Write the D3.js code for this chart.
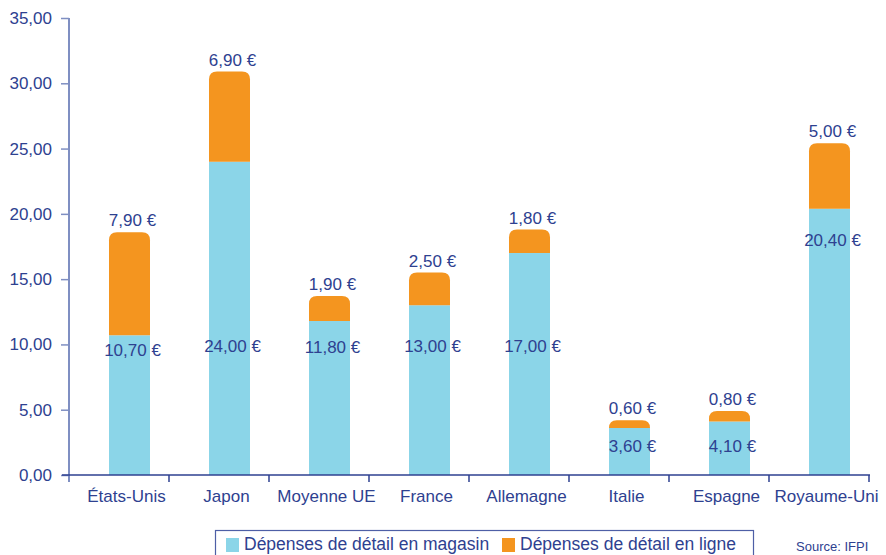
<!DOCTYPE html>
<html>
<head>
<meta charset="utf-8">
<script src="https://cdn.jsdelivr.net/npm/d3@7"></script>
<style>
  body { margin: 0; background: #fff; }
  svg text { font-family: "Liberation Sans", Arial, sans-serif; fill: #2e4190; }
</style>
</head>
<body>
<div id="container"></div>
<script>
// data
let countries = ["États-Unis", "Japon", "Moyenne UE", "France", "Allemagne", "Italie", "Espagne", "Royaume-Uni"];
let storeSpend = [10.70, 24.00, 11.80, 13.00, 17.00, 3.60, 4.10, 20.40];
let onlineSpend = [7.90, 6.90, 1.90, 2.50, 1.80, 0.60, 0.80, 5.00];
// where the in-store label sits (value units)
let storeLabelAt = [9.6, 9.9, 9.8, 9.9, 9.9, 2.2, 2.2, 18.0];
let yTicks = [0, 5, 10, 15, 20, 25, 30, 35];
let legendLabels = ["Dépenses de détail en magasin", "Dépenses de détail en ligne"];

let blue = "#8bd5e8", orange = "#f4951f", ink = "#2e4190";

let svg = d3.select("#container").append("svg")
    .attr("width", 886).attr("height", 555);

let yScale = d3.scaleLinear().domain([0, 35]).range([475, 18]);
let xScale = d3.scaleBand().domain(countries).range([69, 869]);
let bw = xScale.bandwidth();
let barX = d => xScale(d) + bw * 0.40;
let barW = bw * 0.41;
let barC = d => barX(d) + barW / 2;

let fmt = v => d3.format(".2f")(v).replace(".", ",");

// y axis
let yAxis = d3.axisLeft(yScale).tickValues(yTicks).tickFormat(fmt).tickSize(8).tickPadding(9);
let yg = svg.append("g").attr("transform", "translate(69,0)").call(yAxis);
yg.select(".domain").remove();
yg.selectAll(".tick line").attr("stroke", "#7f8fc2").attr("stroke-width", 1.5);
yg.selectAll("text").style("font-size", "17px").attr("fill", ink);
svg.append("line").attr("x1", 69).attr("x2", 69).attr("y1", yScale(35)).attr("y2", 482)
    .attr("stroke", "#7f8fc2").attr("stroke-width", 2);

// bars
let rows = countries.map((c, i) => ({c: c, store: storeSpend[i], online: onlineSpend[i], at: storeLabelAt[i]}));

function roundTop(x, y0, y1, w, r) {
  let h = y0 - y1;
  r = Math.min(r, h, w / 2);
  return "M" + x + "," + y0 + "V" + (y1 + r) +
    "Q" + x + "," + y1 + " " + (x + r) + "," + y1 +
    "H" + (x + w - r) +
    "Q" + (x + w) + "," + y1 + " " + (x + w) + "," + (y1 + r) +
    "V" + y0 + "Z";
}

svg.selectAll("rect.store").data(rows).enter().append("rect")
    .attr("class", "store")
    .attr("x", d => barX(d.c)).attr("width", barW)
    .attr("y", d => yScale(d.store))
    .attr("height", d => yScale(0) - yScale(d.store))
    .attr("fill", blue);

svg.selectAll("path.online").data(rows).enter().append("path")
    .attr("class", "online")
    .attr("d", d => roundTop(barX(d.c), yScale(d.store), yScale(d.store + d.online), barW, 8))
    .attr("fill", orange);

// x axis
let xg = svg.append("g").attr("transform", "translate(0,475)");
xg.append("line").attr("x1", 62).attr("x2", 870).attr("y1", 0).attr("y2", 0)
    .attr("stroke", ink).attr("stroke-width", 1.5);
xg.selectAll("line.tk").data(countries).enter().append("line")
    .attr("class", "tk")
    .attr("x1", d => xScale(d) + bw).attr("x2", d => xScale(d) + bw)
    .attr("y1", 0).attr("y2", 7)
    .attr("stroke", ink).attr("stroke-width", 1.5);
xg.selectAll("text").data(countries).enter().append("text")
    .attr("x", d => barC(d) - 3).attr("y", 27)
    .attr("text-anchor", "middle").style("font-size", "17px")
    .text(d => d);

// value labels
svg.selectAll("text.on").data(rows).enter().append("text")
    .attr("class", "on")
    .attr("x", d => barC(d.c) + 3)
    .attr("y", d => yScale(d.store + d.online) - 6)
    .attr("text-anchor", "middle").style("font-size", "17px")
    .text(d => fmt(d.online) + " €");

svg.selectAll("text.st").data(rows).enter().append("text")
    .attr("class", "st")
    .attr("x", d => barC(d.c) + 3)
    .attr("y", d => yScale(d.at) + 6)
    .attr("text-anchor", "middle").style("font-size", "17px")
    .text(d => fmt(d.store) + " €");

// legend
let lg = svg.append("g");
lg.append("rect").attr("x", 215.5).attr("y", 530.5).attr("width", 538).attr("height", 40)
    .attr("fill", "none").attr("stroke", "#4e5fa6").attr("stroke-width", 1.2);
let items = [{t: legendLabels[0], c: blue, x: 226}, {t: legendLabels[1], c: orange, x: 502}];
lg.selectAll("rect.sw").data(items).enter().append("rect")
    .attr("class", "sw")
    .attr("x", d => d.x).attr("y", 538).attr("width", 13).attr("height", 14)
    .attr("fill", d => d.c);
lg.selectAll("text").data(items).enter().append("text")
    .attr("x", d => d.x + 18).attr("y", 550)
    .style("font-size", "17.5px")
    .text(d => d.t);

svg.append("text").attr("x", 796).attr("y", 551).style("font-size", "13px").text("Source: IFPI");
</script>
</body>
</html>
